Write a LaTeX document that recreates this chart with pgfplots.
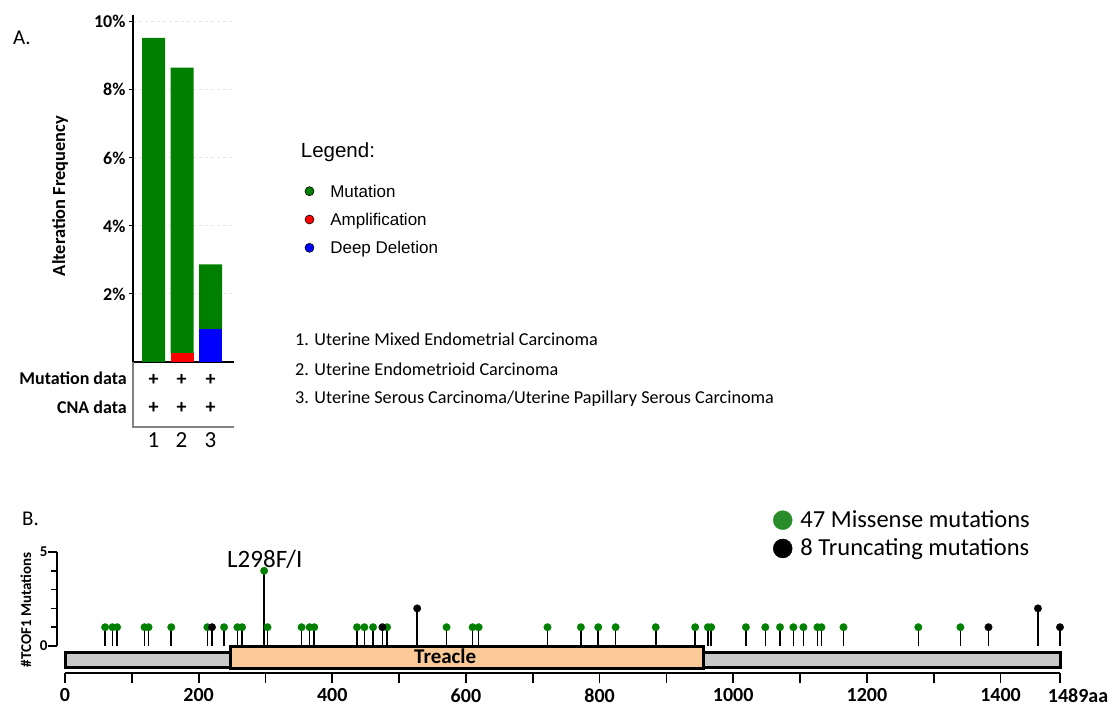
\documentclass[border=0pt]{standalone}
\usepackage{fontspec}
\setmainfont{Carlito}
\newfontfamily\arialf{Liberation Sans}
\usepackage{pgfplots}
\pgfplotsset{compat=1.18}
\definecolor{mutgreen}{RGB}{0,128,0}
\definecolor{leggreen}{RGB}{40,140,40}
\definecolor{treaclec}{RGB}{252,202,152}
\definecolor{protgray}{RGB}{200,200,200}
\definecolor{boxgray}{RGB}{130,130,130}
\newcommand{\fs}[1]{\fontsize{#1}{#1}\selectfont}

\begin{document}
\begin{tikzpicture}[x=1pt,y=1pt]
\path[use as bounding box] (0,0) rectangle (1113,706);

% ---------------- Panel A ----------------
\begin{axis}[
  at={(133pt,344pt)}, anchor=south west,
  scale only axis, width=101pt, height=347pt,
  xmin=0.28, xmax=3.82, ymin=0, ymax=10.2,
  axis x line*=bottom, axis y line*=left,
  axis line style={line width=1.2pt, -},
  ybar stacked, bar width=23pt,
  xtick=\empty,
  ytick={2,4,6,8,10}, yticklabels={2\%,4\%,6\%,8\%,10\%},
  yticklabel style={font=\bfseries\fs{18}},
  tick align=outside, major tick length=4pt,
  tick style={line width=1pt, black},
  ymajorgrids, grid style={dashed, gray!20, line width=1pt},
  clip=false,
  legend style={at={(1.698,0.5219)}, anchor=north west, draw=none, fill=none,
    inner sep=0pt, row sep=8.1pt, column sep=16pt,
    nodes={inner sep=0pt, text height=16.2pt, text depth=4pt, font=\arialf\fs{17}}},
  legend cell align=left,
]
\addplot[fill=blue, draw=none, forget plot] coordinates {(1,0) (2,0) (3,0.96)};
\addplot[fill=red, draw=none, forget plot] coordinates {(1,0) (2,0.27) (3,0)};
\addplot[fill=mutgreen, draw=none, forget plot] coordinates {(1,9.53) (2,8.38) (3,1.91)};
\addlegendimage{legend image code/.code={\draw[black,line width=0.6pt,fill=mutgreen] (0pt,0pt) circle (4.5pt);}}
\addlegendentry{Mutation}
\addlegendimage{legend image code/.code={\draw[black,line width=0.6pt,fill=red] (0pt,0pt) circle (4.5pt);}}
\addlegendentry{Amplification}
\addlegendimage{legend image code/.code={\draw[black,line width=0.6pt,fill=blue] (0pt,0pt) circle (4.5pt);}}
\addlegendentry{Deep Deletion}
\end{axis}

\draw[boxgray, line width=1.2pt] (133,344) -- (133,279) -- (234,279);
\node[anchor=base east, font=\bfseries\fs{18}, inner sep=0pt] at (127,321) {Mutation data};
\node[anchor=base east, font=\bfseries\fs{18}, inner sep=0pt] at (127,292) {CNA data};
\foreach \xx in {153.5,181.5,210.5}{
  \node[font=\bfseries\fs{20}, inner sep=0pt] at (\xx,326) {+};
  \node[font=\bfseries\fs{20}, inner sep=0pt] at (\xx,298) {+};
}
\node[anchor=base, font=\fs{23}, inner sep=0pt] at (153.5,258) {1};
\node[anchor=base, font=\fs{23}, inner sep=0pt] at (181.5,258) {2};
\node[anchor=base, font=\fs{23}, inner sep=0pt] at (210.5,258) {3};

\node[rotate=90, font=\bfseries\fs{18.4}, inner sep=0pt] at (60,510) {Alteration Frequency};
\node[anchor=base west, font=\fs{21}, inner sep=0pt] at (13,661) {A.};
\node[anchor=base west, font=\arialf\fs{20.5}, inner sep=0pt] at (300.7,548) {Legend:};

\node[anchor=base west, font=\fs{18.2}, inner sep=0pt] at (295,360) {1. Uterine Mixed Endometrial Carcinoma};
\node[anchor=base west, font=\fs{18.2}, inner sep=0pt] at (295,330) {2. Uterine Endometrioid Carcinoma};
\node[anchor=base west, font=\fs{18.2}, inner sep=0pt] at (295,302) {3. Uterine Serous Carcinoma/Uterine Papillary Serous Carcinoma};

% ---------------- Panel B ----------------
\node[anchor=base west, font=\fs{21}, inner sep=0pt] at (22,180) {B.};
\node[rotate=90, font=\bfseries\fs{15}, inner sep=0pt] at (26,96) {\#TCOF1 Mutations};

\begin{axis}[
  at={(57pt,60pt)}, anchor=south west,
  scale only axis, width=1003pt, height=94pt,
  xmin=-12, xmax=1489, ymin=0, ymax=5,
  axis x line=none, axis y line*=left,
  axis line style={line width=2pt, -},
  ytick={0,5}, yticklabels={0,5}, minor ytick={1,2,3,4},
  tick align=outside, major tick length=9pt, minor tick length=6pt,
  tick style={line width=1.5pt, black},
  yticklabel style={font=\bfseries\fs{15}, xshift=3pt},
  clip=false,
  legend style={at={(0.7137,1.4564)}, anchor=north west, draw=none, fill=none,
    inner sep=0pt, row sep=6.5pt, column sep=8pt,
    nodes={inner sep=0pt, text height=18pt, text depth=3.8pt, font=\fs{24.5}}},
  legend cell align=left,
]
% protein backbone and Treacle domain
\addplot[fill=protgray, draw=black, line width=3pt, forget plot]
  coordinates {(0,-0.32) (1489,-0.32) (1489,-1.12) (0,-1.12)} -- cycle;
\addplot[fill=treaclec, draw=black, line width=3pt, forget plot]
  coordinates {(248,-0.05) (955,-0.05) (955,-1.22) (248,-1.22)} -- cycle;
% missense
\addplot[ycomb, black, line width=1.6pt, mark=*, mark size=3.8pt,
  mark options={fill=mutgreen, draw=mutgreen, line width=0.2pt}, forget plot] coordinates {
 (60,1) (71,1) (78,1) (119,1) (125,1) (159,1) (213,1) (238,1) (258,1) (265,1)
 (298,4) (303,1) (354,1) (366,1) (373,1) (437,1) (448,1) (461,1) (482,1) (571,1)
 (610,1) (619,1) (722,1) (772,1) (798,1) (824,1) (884,1) (943,1) (962,1) (967,1)
 (1019,1) (1048,1) (1070,1) (1090,1) (1105,1) (1126,1) (1132,1) (1165,1) (1277,1) (1340,1)
};
% truncating
\addplot[ycomb, black, line width=1.6pt, mark=*, mark size=3.8pt,
  mark options={fill=black, draw=black, line width=0.2pt}, forget plot] coordinates {
 (220,1) (475,1) (527,2) (1382,1) (1456,2) (1489,1)
};
\node[anchor=base, font=\bfseries\fs{21}, inner sep=0pt] at (axis cs:569,-0.957) {Treacle};
\node[anchor=base, font=\fs{25}, inner sep=0pt] at (axis cs:299,4.2) {L298F/I};
\addlegendimage{legend image code/.code={\fill[leggreen] (0pt,0pt) circle (9.5pt);}}
\addlegendentry{47 Missense mutations}
\addlegendimage{legend image code/.code={\fill[black] (0pt,0pt) circle (9.5pt);}}
\addlegendentry{8 Truncating mutations}
\end{axis}

\begin{axis}[
  at={(65pt,33pt)}, anchor=south west,
  scale only axis, width=995pt, height=10pt,
  xmin=0, xmax=1489, ymin=0, ymax=1,
  axis y line=none, axis x line*=bottom,
  axis line style={line width=2pt, -},
  xtick={0,200,400,600,800,1000,1200,1400},
  xticklabels={0,200,400,600,800,1000,1200,1400},
  minor xtick={100,300,500,700,900,1100,1300},
  extra x ticks={1489}, extra x tick labels={1489aa},
  extra x tick style={xticklabel style={xshift=18pt}},
  tick align=outside, major tick length=10pt, minor tick length=10pt,
  tick style={line width=1.8pt, black},
  xticklabel style={font=\bfseries\fs{20}, yshift=-2pt},
]
\addplot[draw=none, forget plot] coordinates {(0,0.5)};
\end{axis}
\end{tikzpicture}
\end{document}
